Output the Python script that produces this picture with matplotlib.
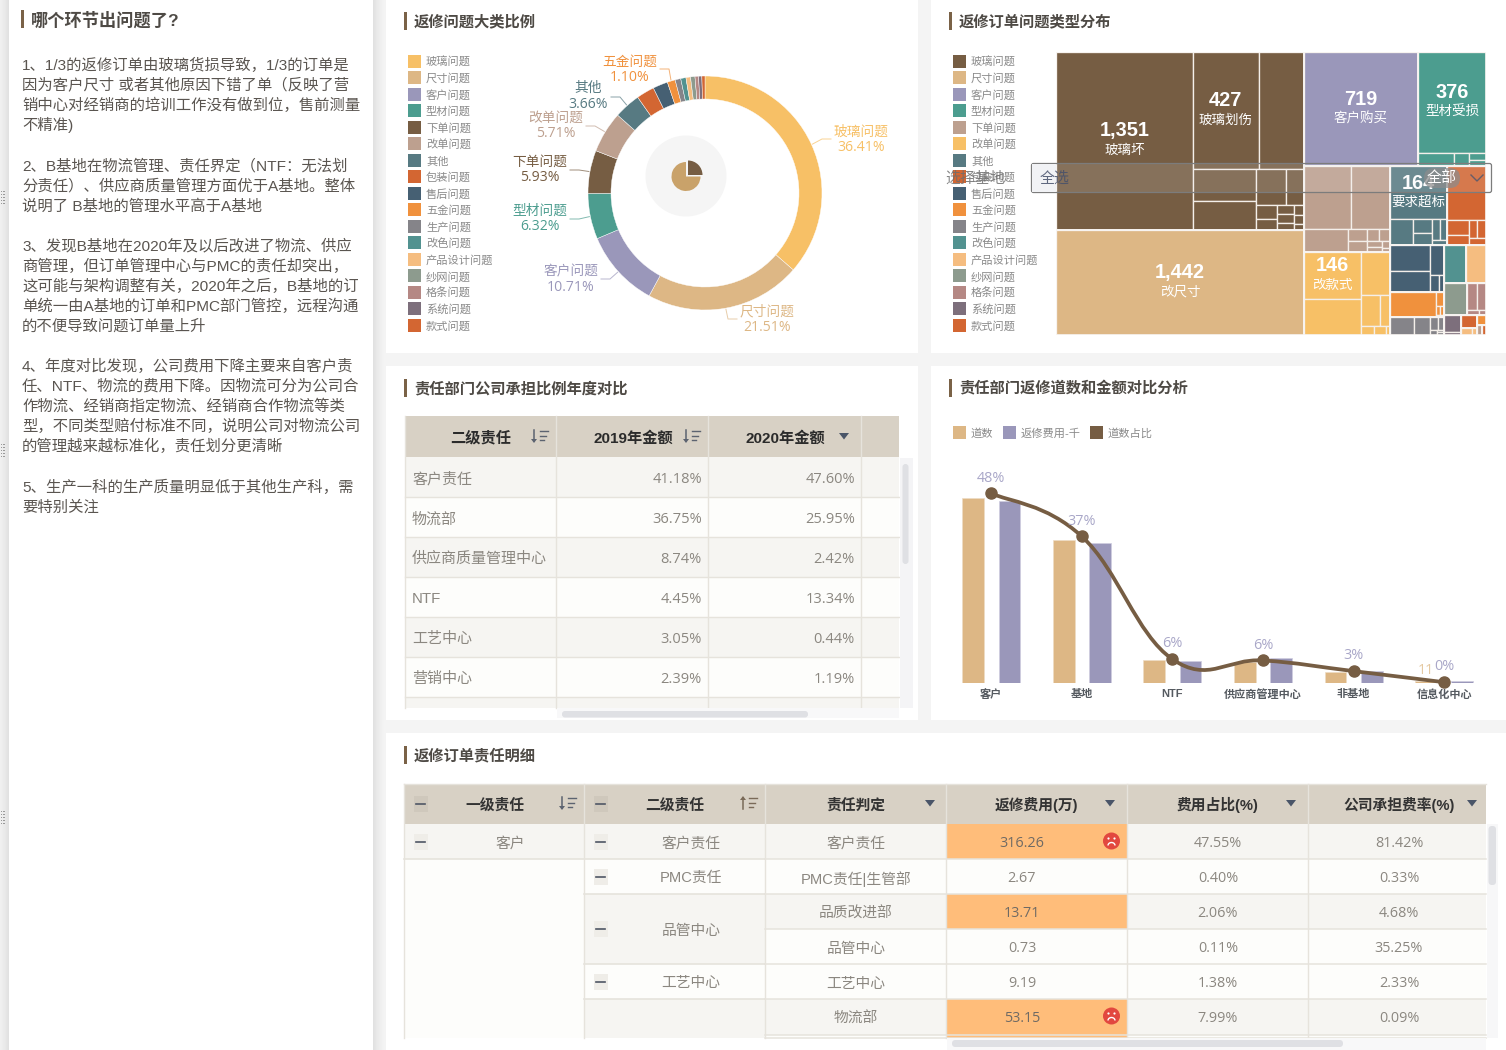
import math
import numpy as np
import matplotlib
matplotlib.use("Agg")
import matplotlib.pyplot as plt
from matplotlib.patches import Rectangle, Circle, Wedge, FancyBboxPatch, Polygon, Arc, PathPatch
from matplotlib.path import Path

plt.rcParams['font.family'] = ['Liberation Sans', 'Noto Sans CJK SC', 'DejaVu Sans']
CJKNUM = ['Open Sans', 'Noto Sans CJK SC', 'DejaVu Sans']

# ---------- data ----------
issue_names = ['玻璃问题', '尺寸问题', '客户问题', '型材问题', '下单问题', '改单问题', '其他', '包装问题', '售后问题',
               '五金问题', '生产问题', '改色问题', '产品设计问题', '纱网问题', '格条问题', '系统问题', '款式问题']
issue_share = [36.41, 21.51, 10.71, 6.32, 5.93, 5.71, 3.66, 2.48, 2.06, 1.10, 0.78, 0.72, 0.63, 0.61, 0.49, 0.45, 0.43]
labelled_issues = ['玻璃问题', '尺寸问题', '客户问题', '型材问题', '下单问题', '改单问题', '其他', '五金问题']

pie_colors = ['#F7C066', '#DDB785', '#9A97BA', '#4C9D8F', '#765D43', '#BDA08F', '#577A82', '#D36632', '#466073',
              '#F0913D', '#858489', '#529290', '#F5BD80', '#8D9B8E', '#B58884', '#7D6F7C', '#D36632']
tree_colors = ['#765D43', '#DDB785', '#9A97BA', '#4C9D8F', '#BDA08F', '#F7C066', '#577A82', '#D36632', '#466073',
               '#F0913D', '#858489', '#529290', '#F5BD80', '#8D9B8E', '#B58884', '#7D6F7C', '#D36632', '#F0913D',
               '#F5BD80', '#BDA08F', '#D36632']

tree_glass = [1351, 427, 294, 112, 100, 60, 37, 16, 13, 9, 8, 7, 5, 5, 3]
tree_size = [1442]
tree_customer = [723]
tree_profile = [382, 26, 11, 6, 6]
tree_order = [166, 135, 56, 12, 12, 8, 7, 5, 4, 3, 2]
tree_change = [146, 113, 69, 33, 17, 7, 6, 2]
tree_other = [168, 32, 14, 12, 9, 8, 4]
tree_package = [116, 18, 12, 9, 9, 6]
tree_aftersale = [58, 48, 24, 8, 5]
tree_hardware = [64, 6, 2, 2, 1]
tree_production = [24, 15, 6, 4, 2, 1, 1]
tree_recolor = [48]
tree_design = [42]
tree_screen = [41]
tree_bar = [14, 14, 3, 2]
tree_system = [16, 3]
tree_style = [11]
tree_x1 = [5]
tree_x2 = [4, 2]
tree_x3 = [3]
tree_x4 = [2]
tree_groups = [tree_glass, tree_size, tree_customer, tree_profile, tree_order, tree_change, tree_other, tree_package,
               tree_aftersale, tree_hardware, tree_production, tree_recolor, tree_design, tree_screen, tree_bar,
               tree_system, tree_style, tree_x1, tree_x2, tree_x3, tree_x4]
tree_labels = {(0, 0): ('1,351', '玻璃坏'), (0, 1): ('427', '玻璃划伤'), (1, 0): ('1,442', '改尺寸'),
               (2, 0): ('719', '客户购买'), (3, 0): ('376', '型材受损'), (5, 0): ('146', '改款式'),
               (6, 0): ('164', '要求超标')}

bar_cats = ['客户', '基地', 'NTF', '供应商管理中心', '非基地', '信息化中心']
bar_orders = [1028, 794, 128, 117, 61, 11]
bar_fee = [6650, 5110, 804, 914, 439, 73]
bar_ratio = [47.9, 37.0, 6.0, 5.7, 3.0, 0.2]
bar_ratio_text = ['48%', '37%', '6%', '6%', '3%', '0%']

t1_headers = ['二级责任', '2019年金额', '2020年金额']
t1_names = ['客户责任', '物流部', '供应商质量管理中心', 'NTF', '工艺中心', '营销中心']
t1_2019 = ['41.18%', '36.75%', '8.74%', '4.45%', '3.05%', '2.39%']
t1_2020 = ['47.60%', '25.95%', '2.42%', '13.34%', '0.44%', '1.19%']

t2_headers = ['一级责任', '二级责任', '责任判定', '返修费用(万)', '费用占比(%)', '公司承担费率(%)']
t2_judge = ['客户责任', 'PMC责任|生管部', '品质改进部', '品管中心', '工艺中心', '物流部']
t2_cost = ['316.26', '2.67', '13.71', '0.73', '9.19', '53.15']
t2_share = ['47.55%', '0.40%', '2.06%', '0.11%', '1.38%', '7.99%']
t2_rate = ['81.42%', '0.33%', '4.68%', '35.25%', '2.33%', '0.09%']

notes = [
    (64, '1、1/3的返修订单由玻璃货损导致，1/3的订单是'),
    (84, '因为客户尺寸 或者其他原因下错了单（反映了营'),
    (104, '销中心对经销商的培训工作没有做到位，售前测量'),
    (124, '不精准)'),
    (165, '2、B基地在物流管理、责任界定（NTF：无法划'),
    (185, '分责任）、供应商质量管理方面优于A基地。整体'),
    (205, '说明了 B基地的管理水平高于A基地'),
    (245, '3、发现B基地在2020年及以后改进了物流、供应'),
    (265, '商管理，但订单管理中心与PMC的责任却突出，'),
    (285, '这可能与架构调整有关，2020年之后，B基地的订'),
    (305, '单统一由A基地的订单和PMC部门管控，远程沟通'),
    (325, '的不便导致问题订单量上升'),
    (365, '4、年度对比发现，公司费用下降主要来自客户责'),
    (385, '任、NTF、物流的费用下降。因物流可分为公司合'),
    (405, '作物流、经销商指定物流、经销商合作物流等类'),
    (425, '型，不同类型赔付标准不同，说明公司对物流公司'),
    (445, '的管理越来越标准化，责任划分更清晰'),
    (486, '5、生产一科的生产质量明显低于其他生产科，需'),
    (506, '要特别关注'),
]

# ---------- helpers ----------
FW, FH = 1506, 1050
fig = plt.figure(figsize=(FW / 100, FH / 100), dpi=100, facecolor='#F4F4F4')


def px_axes(x0, y0, x1, y1, **kw):
    return fig.add_axes([x0 / FW, 1 - y1 / FH, (x1 - x0) / FW, (y1 - y0) / FH], **kw)


bg = px_axes(0, 0, FW, FH)
bg.set_xlim(0, FW)
bg.set_ylim(FH, 0)
bg.axis('off')


def T(ax, x, y, s, px=15, color='#5A5550', ha='left', va='center', family=None, **kw):
    d = dict(fontsize=px * 0.72, color=color, ha=ha, va=va)
    if family:
        d['family'] = family
    d.update(kw)
    return ax.text(x, y + 1.3, s, **d)


def R(ax, x0, y0, x1, y1, fc, z=1, **kw):
    ax.add_patch(Rectangle((x0, y0), x1 - x0, y1 - y0, facecolor=fc, edgecolor='none', zorder=z, **kw))


def title(x, y, s, px=15.3):
    R(bg, x, y - 9, x + 3, y + 9, '#7A6247', z=3)
    T(bg, x + 10, y, s, px=px, color='#4E4A45', weight='bold', zorder=3)


# ---------- panels and shadow ----------
for i in range(12):
    a = 0.075 * (1 - i / 12) ** 1.5
    R(bg, 373 + i, 0, 374 + i, FH, 'k', z=0.5, alpha=a)
    if i < 9:
        R(bg, 8 - i, 0, 9 - i, FH, 'k', z=0.5, alpha=a)
for (x0, y0, x1, y1) in [(9, 0, 373, FH), (386, 0, 918, 353), (931, 0, 1506, 353),
                         (386, 366, 918, 720), (931, 366, 1506, 720), (386, 733, 1506, FH)]:
    R(bg, x0, y0, x1, y1, 'white', z=1)
for gy in (197, 450, 817):
    for dx in (0, 3):
        for dy in range(-6, 7, 3):
            bg.add_patch(Rectangle((dx + 0.5, gy + dy), 1.4, 1.4, fc='#9A9A9A', ec='none', zorder=2))

title(21, 19, '哪个环节出问题了?', px=17.2)
for y, s in notes:
    T(bg, 22, y, s, px=15.35, color='#5A5550', zorder=3)

title(404, 21, '返修问题大类比例')
title(949, 21, '返修订单问题类型分布')
title(404, 388, '责任部门公司承担比例年度对比')
title(949, 388, '责任部门返修道数和金额对比分析')
title(404, 755, '返修订单责任明细')

# ---------- legends ----------
for i, name in enumerate(issue_names):
    y = 61 + i * 16.5
    R(bg, 408, y - 6.5, 421, y + 6.5, pie_colors[i], z=3)
    T(bg, 426, y, name, px=11.2, color='#8A8A8A', zorder=3)
    R(bg, 953, y - 6.5, 966, y + 6.5, tree_colors[i], z=3)
    T(bg, 971, y, name, px=11.2, color='#8A8A8A', zorder=3)

# ---------- donut ----------
cx, cy, rad = 705, 193, 117
bg.add_patch(Circle((686, 176), 40.5, fc='#F5F5F5', ec='none', zorder=2))
bg.add_patch(Wedge((686, 176.5), 14.5, 0, 270, fc='#C9A26A', ec='none', zorder=3))
bg.add_patch(Wedge((688, 175), 14.5, 270, 360, fc='#765D43', ec='none', zorder=3))

pax = px_axes(cx - 130, cy - 130, cx + 130, cy + 130)
pax.patch.set_alpha(0)
wedges, _ = pax.pie(issue_share, colors=pie_colors, startangle=90, counterclock=False, radius=1,
                    wedgeprops=dict(width=23 / 117, edgecolor='#FFFFFF', linewidth=0.3))
pax.set_xlim(-130 / 117, 130 / 117)
pax.set_ylim(-130 / 117, 130 / 117)
pax.set_aspect('equal')

label_pos = {'玻璃问题': (861, 130, 146, (831, 139)), '尺寸问题': (767, 310, 326, (737, 319)),
             '客户问题': (571, 270, 286, (601, 279)), '型材问题': (540, 209, 225, (570, 219)),
             '下单问题': (540, 160, 176, (570, 170)), '改单问题': (556, 116, 132, (586, 126)),
             '其他': (588, 87, 103, (611, 97)), '五金问题': (630, 60, 76, (660, 69))}
for i, name in enumerate(issue_names):
    if name not in labelled_issues:
        continue
    lx, ly1, ly2, end = label_pos[name]
    col = pie_colors[i]
    T(bg, lx, ly1, name, px=13.7, color=col, ha='center', zorder=4)
    T(bg, lx, ly2, f'{issue_share[i]:.2f}%', px=14, color=col, ha='center', zorder=4, family=CJKNUM)
    ang = math.radians((wedges[i].theta1 + wedges[i].theta2) / 2)
    sx, sy = cx + (rad + 1) * math.cos(ang), cy - (rad + 1) * math.sin(ang)
    ex, ey = end
    mx = ex + (9 if ex < sx else -9)
    bg.plot([sx, mx, ex], [sy, ey, ey], color=col, lw=0.7, alpha=0.7, zorder=2)

# ---------- treemap ----------
TX0, TY0, TX1, TY1 = 1056, 51.5, 1486, 335
tax = px_axes(TX0, TY0, TX1, TY1)
tax.set_xlim(TX0, TX1)
tax.set_ylim(TY1, TY0)
tax.axis('off')
PHI = 0.5 * (1 + math.sqrt(5))


def squarify(values, x, y, w, h):
    total = sum(values)
    order = sorted(range(len(values)), key=lambda k: -values[k])
    areas = [(k, values[k] * w * h / total) for k in order]
    out = {}

    def worst(row, short):
        s = sum(a for _, a in row)
        side2 = short * short
        return max(side2 * max(a for _, a in row) * PHI / (s * s),
                   s * s / (side2 * min(a for _, a in row) * PHI))

    while areas:
        short = min(w, h)
        row = [areas[0]]
        i = 1
        best = worst(row, short)
        while i < len(areas):
            w2 = worst(row + [areas[i]], short)
            if w2 > best:
                break
            row.append(areas[i])
            best = w2
            i += 1
        areas = areas[i:]
        s = sum(a for _, a in row)
        thick = s / short
        if w >= h:  # vertical column at left
            yy = y
            for k, a in row:
                out[k] = (x, yy, thick, a / thick)
                yy += a / thick
            x += thick
            w -= thick
        else:  # horizontal row on top
            xx = x
            for k, a in row:
                out[k] = (xx, y, a / thick, thick)
                xx += a / thick
            y += thick
            h -= thick
    return out


group_totals = [sum(g) for g in tree_groups]
group_rects = squarify(group_totals, TX0, TY0, TX1 - TX0, TY1 - TY0)
for gi, group in enumerate(tree_groups):
    gx, gy, gw, gh = group_rects[gi]
    leaf_rects = squarify(group, gx, gy, gw, gh)
    for li, val in enumerate(group):
        x, y, w, h = leaf_rects[li]
        tax.add_patch(Rectangle((x, y), w, h, fc=tree_colors[gi], ec='#F4EFEA', lw=0.95))
        key = (gi, li)
        if key in tree_labels:
            vt, nt = tree_labels[key]
            T(tax, x + w / 2, y + h / 2 - 11, vt, px=20, color='white', ha='center', weight='bold')
            T(tax, x + w / 2, y + h / 2 + 8, nt, px=13.5, color='white', ha='center')
    tax.add_patch(Rectangle((gx, gy), gw, gh, fc='none', ec='#F8F5F2', lw=1.2))

# ---------- bars ----------
BX0, BX1, BY0, BY1 = 946, 1489.5, 465, 683
bax = px_axes(BX0, BY0, BX1, BY1)
bax.patch.set_alpha(0)
idx = np.arange(len(bar_cats))
bax.bar(idx - 0.2, bar_orders, width=0.24, color='#DDB785', edgecolor='#EEDCC4', linewidth=0.5)
bax.set_xlim(-0.5, 5.5)
bax.set_ylim(0, 218 / 0.18)
for s in bax.spines.values():
    s.set_visible(False)
bax.set_yticks([])
bax.set_xticks(idx)
bax.set_xticklabels(bar_cats, fontsize=8.0, color='#555A60', weight='bold')
bax.tick_params(axis='x', length=0, pad=4.6)

bax2 = bax.twinx()
bax2.bar(idx + 0.2, bar_fee, width=0.24, color='#9A97BA', edgecolor='#CFCDE0', linewidth=0.5)
bax2.set_ylim(0, 218 * 36.5)
bax2.axis('off')

bax3 = bax.twinx()
bax3.set_ylim(0, 218 / 3.96)
bax3.axis('off')
s_ = 0.2
pts = list(zip(idx.astype(float), bar_ratio))
verts = [pts[0]]
codes = [Path.MOVETO]
for i in range(len(pts) - 1):
    p0 = pts[max(i - 1, 0)]
    p1 = pts[i]
    p2 = pts[i + 1]
    p3 = pts[min(i + 2, len(pts) - 1)]
    c1 = (p1[0] + (p2[0] - p0[0]) * s_, p1[1] + (p2[1] - p0[1]) * s_)
    c2 = (p2[0] - (p3[0] - p1[0]) * s_, p2[1] - (p3[1] - p1[1]) * s_)
    verts += [c1, c2, p2]
    codes += [Path.CURVE4] * 3
bax3.add_patch(PathPatch(Path(verts, codes), fc='none', ec='#765D43', lw=2.7, clip_on=False))
bax3.plot(idx, bar_ratio, ls='none', marker='o', ms=8, color='#765D43', clip_on=False)
for i, t in enumerate(bar_ratio_text):
    bax3.annotate(t, (idx[i], bar_ratio[i]), xytext=(0, 11), textcoords='offset points', ha='center', va='center',
                  fontsize=10.4, color='#A9A7C8', family=CJKNUM)
bax.annotate(str(bar_orders[-1]), (idx[-1] - 0.2, bar_orders[-1]), xytext=(0, 7.5), textcoords='offset points',
             ha='center', va='center', fontsize=10.4, color='#E5C9A2', family=CJKNUM)

for sx_, col, name in [(953, '#DDB785', '道数'), (1003, '#9A97BA', '返修费用-千'), (1090, '#765D43', '道数占比')]:
    R(bg, sx_, 426, sx_ + 13, 439, col, z=3)
    T(bg, sx_ + 18, 432, name, px=11.2, color='#8A8A8A', zorder=3)

# ---------- tables ----------
HDR = '#D8D1C5'
GREY = '#F6F5F2'
WHITE = '#FDFDFB'
LINE = '#E6E3DC'
CELL = '#8B8780'


def sort_icon(x, y, up=False, col='#5C6370'):
    if up:
        bg.plot([x - 6, x - 6], [y - 5, y + 6], color=col, lw=1.1, zorder=6)
        bg.add_patch(Polygon([[x - 9, y - 3], [x - 3, y - 3], [x - 6, y - 7]], fc=col, ec='none', zorder=6))
    else:
        bg.plot([x - 6, x - 6], [y - 6, y + 5], color=col, lw=1.1, zorder=6)
        bg.add_patch(Polygon([[x - 9, y + 3], [x - 3, y + 3], [x - 6, y + 7]], fc=col, ec='none', zorder=6))
    for k, L in enumerate((8, 6, 4)):
        yy = y - 5 + k * 4.5
        bg.plot([x, x + L], [yy, yy], color=col, lw=1.0, zorder=6)


def tri(x, y):
    bg.add_patch(Polygon([[x - 5, y - 3], [x + 5, y - 3], [x, y + 3.5]], fc='#4A5568', ec='none', zorder=6))


def minus(x, y, fc='#EFEDE8'):
    R(bg, x - 7, y - 8, x + 7, y + 8, fc, z=5)
    bg.plot([x - 4.5, x + 4.5], [y, y], color='#4F5665', lw=1.2, zorder=6)


# table 1
cols = [405, 556, 708, 861, 899]
R(bg, cols[0], 416, cols[-1], 457, HDR, z=2)
ry0 = 457
rh = 40
for r in range(7):
    y0 = ry0 + r * rh
    y1 = min(y0 + rh, 708)
    R(bg, cols[0], y0, cols[-1], y1, GREY if r % 2 == 0 else WHITE, z=2)
    if r < 6:
        bg.plot([cols[0], cols[-1]], [y0 + rh, y0 + rh], color=LINE, lw=1, zorder=3)
for x in cols[:-1]:
    bg.plot([x, x], [416, 708], color=LINE, lw=1, zorder=3)
for i, name in enumerate(t1_names):
    y = ry0 + i * rh + rh / 2 + 1
    T(bg, 412, y, name, px=15, color=CELL, zorder=4)
    T(bg, 702, y, t1_2019[i], px=14.6, color=CELL, ha='right', zorder=4, family=CJKNUM)
    T(bg, 855, y, t1_2020[i], px=14.6, color=CELL, ha='right', zorder=4, family=CJKNUM)
for xc, s in zip((481, 633, 785), t1_headers):
    T(bg, xc, 437, s, px=15.2, color='#2B2B2B', ha='center', weight='bold', zorder=4)
sort_icon(540, 436)
sort_icon(692, 436)
tri(844, 436)
R(bg, 900, 458, 913, 708, '#F4F4F6', z=4)
bg.add_patch(FancyBboxPatch((902.5, 464), 6, 100, boxstyle='round,pad=0,rounding_size=3', fc='#DFE0E4', ec='none', zorder=5))
R(bg, 557, 708, 899, 718, '#F8F8F9', z=4)
bg.add_patch(FancyBboxPatch((562, 711), 246, 6.5, boxstyle='round,pad=0,rounding_size=3', fc='#DFE0E4', ec='none', zorder=5))

# table 2
c2 = [404.5, 584, 765, 946.5, 1127, 1308, 1486]
H0, H1 = 784, 824
rows_y = [824, 859, 894, 929, 964, 999, 1035, 1038]
R(bg, c2[0], H0, c2[-1], H1, HDR, z=2)
R(bg, c2[0], H1, c2[-1], 1038, WHITE, z=2)
row_bg = [GREY, WHITE, GREY, WHITE, WHITE, GREY, WHITE]
highlight = {0, 2, 5, 6}
for r in range(7):
    y0, y1 = rows_y[r], rows_y[r + 1]
    R(bg, c2[2], y0, c2[-1], y1, row_bg[r], z=2)
    if r in highlight:
        R(bg, c2[3], y0, c2[4], y1, '#FFBD7A', z=3)
    bg.plot([c2[2], c2[-1]], [y1, y1], color=LINE, lw=1.1, zorder=4)
R(bg, c2[0], rows_y[0], c2[2], rows_y[1], GREY, z=2)
R(bg, c2[1], rows_y[2], c2[2], rows_y[4], GREY, z=2)
R(bg, c2[1], rows_y[5], c2[2], 1038, GREY, z=2)
for yy in (rows_y[1],):
    bg.plot([c2[0], c2[2]], [yy, yy], color=LINE, lw=1.2, zorder=4)
for yy in (rows_y[2], rows_y[4], rows_y[5]):
    bg.plot([c2[1], c2[2]], [yy, yy], color=LINE, lw=1.2, zorder=4)
for x in c2[:-1]:
    bg.plot([x, x], [H0, 1038], color=LINE, lw=1, zorder=4)
bg.plot([c2[0], c2[-1]], [H0, H0], color=LINE, lw=1, zorder=4)

for xc, s in zip((495, 675, 856, 1036, 1217, 1399), t2_headers):
    T(bg, xc, 804, s, px=14.8, color='#333333', ha='center', weight='bold', zorder=5)
sort_icon(568, 803)
sort_icon(749, 803, up=True, col='#7A6A58')
for x in (930, 1110, 1291, 1472):
    tri(x, 803)
minus(421, 804, '#CFC8BC')
minus(601, 804, '#CFC8BC')
minus(421, 842)
T(bg, 510, 842, '客户', px=14.8, color=CELL, ha='center', zorder=5)
for yc, s in zip((842, 877, 930, 982), ('客户责任', 'PMC责任', '品管中心', '工艺中心')):
    T(bg, 691, yc, s, px=14.8, color=CELL, ha='center', zorder=5)
for yc in (842, 877, 929, 982):
    minus(601, yc)
for i in range(6):
    yc = rows_y[i] + 18.5
    T(bg, 856, yc, t2_judge[i], px=14.8, color=CELL, ha='center', zorder=5)
    T(bg, 1022, yc, t2_cost[i], px=14.4, color='#6F6A64' if i in highlight else CELL, ha='center', zorder=5, family=CJKNUM)
    T(bg, 1218, yc, t2_share[i], px=14.4, color=CELL, ha='center', zorder=5, family=CJKNUM)
    T(bg, 1399, yc, t2_rate[i], px=14.4, color=CELL, ha='center', zorder=5, family=CJKNUM)
for yc in (841, 1016):
    bg.add_patch(Circle((1111.5, yc), 8.5, fc='#E2483F', ec='none', zorder=6))
    bg.add_patch(Circle((1108.5, yc - 2.5), 1.1, fc='white', ec='none', zorder=7))
    bg.add_patch(Circle((1114.5, yc - 2.5), 1.1, fc='white', ec='none', zorder=7))
    bg.add_patch(Arc((1111.5, yc + 4.5), 7, 6, theta1=180, theta2=360, ec='white', lw=1, zorder=7))
R(bg, 947, 1038, 1486, 1050, '#F8F8F9', z=5)
bg.add_patch(FancyBboxPatch((952, 1040), 391, 7, boxstyle='round,pad=0,rounding_size=3.5', fc='#DFE0E4', ec='none', zorder=6))
R(bg, 1487, 824, 1498, 1038, '#F7F7F8', z=5)
bg.add_patch(FancyBboxPatch((1488.5, 826), 7.5, 59, boxstyle='round,pad=0,rounding_size=3.5', fc='#DFE0E4', ec='none', zorder=6))

# ---------- filter overlay on the treemap ----------
ov = px_axes(0, 0, FW, FH)
ov.set_xlim(0, FW)
ov.set_ylim(FH, 0)
ov.axis('off')
ov.patch.set_alpha(0)
ov.set_zorder(20)
ov.add_patch(FancyBboxPatch((1031.5, 163.5), 460, 29, boxstyle='round,pad=0,rounding_size=2',
                            fc=(0.93, 0.93, 0.95, 0.14), ec='#7C7C7C', lw=0.9))
ov.add_patch(Rectangle((1032, 164), 24, 28, fc='#F1F2F5', ec='none'))
T(ov, 1040, 177, '全选', px=15, color='#46506B', alpha=0.85)
T(ov, 975, 177, '选择基地', px=15, color='#6E6E6E', ha='center', alpha=0.85)
ov.add_patch(FancyBboxPatch((1424, 168), 36, 20, boxstyle='round,pad=0,rounding_size=10',
                            fc=(0.55, 0.55, 0.55, 0.72), ec='none'))
T(ov, 1442, 176.5, '全部', px=15, color='white', ha='center')
ov.plot([1471, 1477, 1483], [175, 181, 175], color='#4A5570', lw=1.0, alpha=0.8)

fig.savefig('out.png', dpi=100, facecolor=fig.get_facecolor())
